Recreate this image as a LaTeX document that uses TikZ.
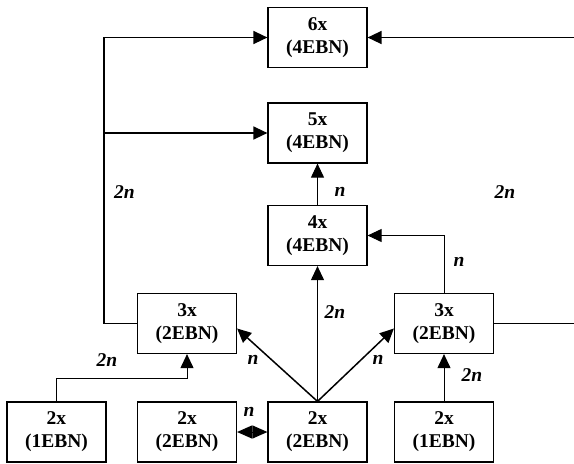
\documentclass[tikz,border=0pt]{standalone}
\usepackage{fontspec}
\setmainfont{Liberation Serif}
\usetikzlibrary{arrows.meta,positioning,calc}
\begin{document}
\begin{tikzpicture}[x=1pt,y=-1pt]
    \tikzstyle{every node} = [font=\fontsize{19.5}{23}\selectfont\bfseries]
    \tikzstyle{block} = [draw, rectangle, line width=1.2pt, minimum width=99pt, minimum height=60pt, inner sep=0pt, align=center]
    \tikzstyle{lab} = [font=\fontsize{19.5}{23}\selectfont\bfseries\itshape, inner sep=0pt]
    \tikzstyle{tip} = [-{Triangle[length=14pt,width=13pt]}]
    \tikzstyle{heavy} = [line width=1.5pt]
    \tikzstyle{light} = [line width=1pt]
    \useasboundingbox (0,0) rectangle (574,464);
    % place nodes
    \node[block](six) at (317.5,37.5){6x\\(4EBN)};
    \node[block](five) at (317.5,133){5x\\(4EBN)};
    \node[block](four) at (317.5,235.5){4x\\(4EBN)};
    \node[block](threeL) at (187,323.5){3x\\(2EBN)};
    \node[block](threeR) at (444,323.5){3x\\(2EBN)};
    \node[block](twoA) at (56.5,432){2x\\(1EBN)};
    \node[block](twoB) at (187,432){2x\\(2EBN)};
    \node[block](twoC) at (317.5,432){2x\\(2EBN)};
    \node[block](twoD) at (444,432){2x\\(1EBN)};
    \coordinate (lcorner) at ([xshift=-33pt]threeL.west);
    \coordinate (rtop) at (574,37.5);
    \coordinate (rmid) at (574,323.5);

    % Connections
    \draw[tip,heavy] (threeL.west)--(lcorner)|-(six.west);
    \draw[tip,heavy] (lcorner|-five.west)--(five.west);
    \draw[tip,heavy] (rtop)--(six.east);
    \draw[heavy] (threeR.east)--(rmid);
    \draw[tip,light] (four.north)--(five.south);
    \draw[tip,light] (threeR.north)|-(four.east);
    \draw[tip,light] (twoC.north)--(four.south);
    \draw[tip,heavy] (twoC.north)--([yshift=-5pt]threeL.east);
    \draw[tip,heavy] (twoC.north)--([yshift=-5pt]threeR.west);
    \draw[tip,light] (twoA.north)--++(0,-23)-|(threeL.south);
    \draw[tip,light] (twoD.north)--(threeR.south);
    \draw[{Triangle[length=15pt,width=13pt]}-{Triangle[length=15pt,width=13pt]},light] (twoB.east)--(twoC.west);

    % labels
    \node[lab](l1) at (124.5,192){2n};
    \node[lab](l2) at (505,192){2n};
    \node[lab](l3) at (340,192){n};
    \node[lab](l4) at (459,262){n};
    \node[lab](l5) at (335,312){2n};
    \node[lab](l6) at (107,360){2n};
    \node[lab](l7) at (253,360){n};
    \node[lab](l8) at (378,360){n};
    \node[lab](l9) at (472,375){2n};
    \node[lab](l10) at (249,412){n};
\end{tikzpicture}
\end{document}
